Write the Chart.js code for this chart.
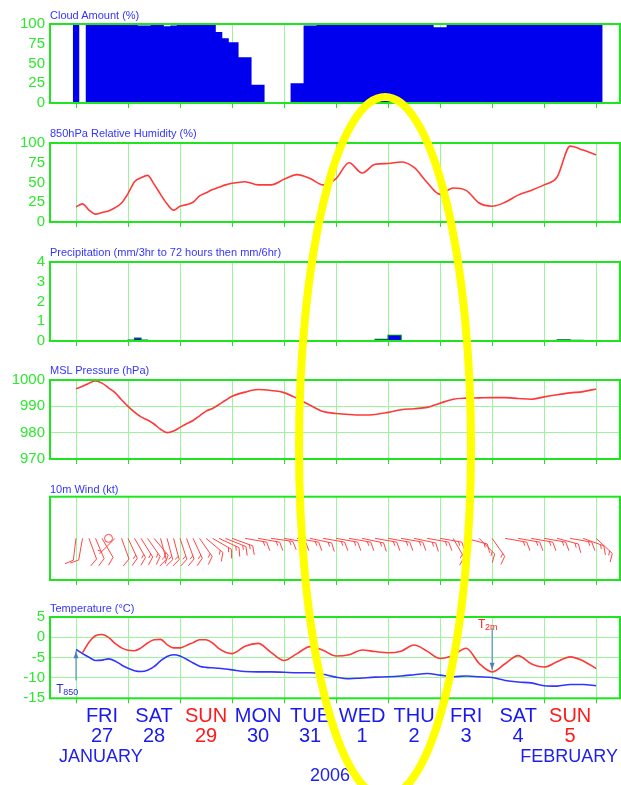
<!DOCTYPE html>
<html>
<head>
<meta charset="utf-8">
<script src="https://cdn.jsdelivr.net/npm/chart.js@4.4.1/dist/chart.umd.min.js"></script>
<style>
  body { margin: 0; background: #fff; font-family: "Liberation Sans", Arial, sans-serif; }
  #page { position: relative; width: 621px; height: 785px; overflow: hidden; }
  canvas.panel { position: absolute; left: 0; }
  .ttl { position: absolute; left: 50px; font-size: 11px; line-height: 12px; color: #3535ff; white-space: nowrap; z-index: 2; }
  .lbl { position: absolute; color: #2020ee; white-space: nowrap; z-index: 2; }
  #ring { position: absolute; left: 0; top: 0; z-index: 5; pointer-events: none; }
</style>
</head>
<body>
<div id="page"></div>
<script>
// forecast times (hours from 27 Jan 00Z): 3-hourly to 72h, then 6-hourly
const hours = [0,3,6,9,12,15,18,21,24,27,30,33,36,39,42,45,48,51,54,57,60,63,66,69,72,
  78,84,90,96,102,108,114,120,126,132,138,144,150,156,162,168,174,180,186,192,198,204,210,216,222,228,234,240];

const cloud = [100,0,100,100,100,100,100,99,100,100,98,98,100,100,97,98,100,100,100,100,100,100,90,82,77,
  58,23,1,0,25,98,100,100,100,100,100,100,100,100,100,96,100,100,100,100,100,100,100,100,100,100,100,100];

const humidity = [19,23,15,10,12,14,18,24,36,51,56,59,48,35,23,15,20,22,25,33,37,41,44,47,49,
  51,47,47,54,60,55,47,55,75,62,73,74,76,69,50,35,43,40,24,20,25,34,40,47,57,96,91,85];

// mm per interval ending at the given hour
const precip = [0,0,0,0,0,0,0,0,0,0.05,0.15,0.04,0,0,0,0,0,0,0,0,0,0,0,0,0,
  0,0,0,0,0,0,0,0,0,0,0,0.08,0.28,0,0,0,0,0,0,0,0,0,0,0,0,0.06,0.03,0];

const pressure = [996.7,997.6,998.8,999.6,998.8,997.0,995.2,992.5,990.0,987.8,986.0,984.8,983.3,981.3,980.0,980.6,982.0,983.4,984.6,986.4,988.2,989.2,990.7,992.3,993.8,
  995.4,996.4,996.0,995.2,993.0,990.4,988.0,987.3,986.9,986.7,986.9,987.7,988.7,989.1,989.6,991.2,992.7,993.1,993.2,993.3,993.3,993.0,992.7,993.6,994.4,995.1,995.6,996.6];

// wind: direction it blows from (deg) and speed (kt)
const windDir = [187,190,160,157,150,0,225,160,155,150,148,145,140,165,165,165,162,160,155,145,130,120,115,112,110,
  100,100,98,100,100,102,100,100,100,102,100,100,100,102,100,100,150,105,135,145,100,100,100,100,105,100,110,133];
const windSpeed = [10,10,10,10,10,0,5,10,15,15,15,15,15,15,15,15,15,15,15,15,15,15,15,15,15,
  15,15,15,15,15,15,15,15,15,15,15,15,15,15,15,15,15,15,15,15,15,15,15,15,15,15,15,15];

const t850 = [-3.0,-4.0,-4.9,-5.7,-5.6,-5.3,-5.8,-6.8,-7.6,-8.2,-8.4,-8.1,-7.2,-5.8,-4.7,-4.3,-4.6,-5.4,-6.3,-7.1,-7.4,-7.5,-7.6,-7.8,-8.0,
  -8.4,-8.5,-8.5,-8.6,-8.7,-8.7,-9.1,-9.8,-10.2,-10.0,-9.8,-9.7,-9.5,-9.2,-8.9,-9.3,-9.7,-9.5,-9.7,-9.9,-10.6,-11.0,-11.2,-11.9,-12.0,-11.6,-11.6,-11.9];
const t2m = [null,-3.8,-1.2,0.4,0.7,0.0,-1.5,-2.6,-3.2,-3.3,-2.6,-1.4,-0.6,-0.5,-1.8,-2.6,-2.6,-2.0,-1.3,-0.6,-0.6,-1.4,-2.8,-3.7,-4.0,
  -2.2,-1.5,-3.7,-5.7,-4.0,-2.3,-3.2,-4.6,-4.3,-3.1,-3.5,-3.8,-3.4,-1.9,-3.4,-5.2,-4.4,-2.7,-6.4,-8.5,-6.5,-4.5,-6.5,-7.3,-6.0,-4.8,-5.8,-7.7];

const dayTicks = [0,24,48,72,96,120,144,168,192,216,240];
const dayNoon = [12,36,60,84,108,132,156,180,204,228];
const dayNames = ['FRI','SAT','SUN','MON','TUE','WED','THU','FRI','SAT','SUN'];
const dayNums = ['27','28','29','30','31','1','2','3','4','5'];

const GREEN = '#1ee61e', GRID = '#9cf59c', LABEL = '#2ee82e';
Chart.defaults.font.family = '"Liberation Sans", Arial, sans-serif';
Chart.defaults.animation = false;

const page = document.getElementById('page');

const framePlugin = {
  id: 'frame',
  afterDatasetsDraw(chart) {
    const a = chart.chartArea, c = chart.ctx;
    c.save();
    c.strokeStyle = GREEN; c.lineWidth = 2;
    c.strokeRect(a.left, a.top, a.right - a.left, a.bottom - a.top);
    c.restore();
  }
};

function addTitle(text, areaTop) {
  const d = document.createElement('div');
  d.className = 'ttl'; d.textContent = text; d.style.top = (areaTop - 14) + 'px';
  page.appendChild(d);
}

function xScale(h) {
  return {
    type: 'linear', min: -12, max: 251,
    afterBuildTicks: s => { s.ticks = dayTicks.map(v => ({ value: v })); },
    ticks: { display: false },
    grid: { color: GRID, lineWidth: 1, tickLength: 5, tickColor: GREEN, tickWidth: 1 },
    border: { display: false },
    afterFit: s => { s.height = h; }
  };
}

function yScale(min, max, step, hgrid, show) {
  return {
    min: min, max: max,
    ticks: { display: show !== false, stepSize: step, autoSkip: false, color: LABEL, font: { size: 15 }, padding: 5,
      callback: v => String(v) },
    grid: { display: hgrid, color: GRID, lineWidth: 1, drawTicks: false },
    border: { display: false },
    afterFit: s => { s.width = 50; }
  };
}

function makePanel(areaTop, areaBottom, datasets, y, plugins, bottomTo, extraScales) {
  const top = Math.floor(areaTop - 12);
  const bottom = bottomTo || Math.ceil(areaBottom + 12);
  const cv = document.createElement('canvas');
  cv.className = 'panel';
  cv.width = 621; cv.height = bottom - top;
  cv.style.top = top + 'px';
  page.appendChild(cv);
  const xh = bottomTo ? 0 : bottom - areaBottom;
  const scales = Object.assign({ x: xScale(xh), y: y }, extraScales || {});
  return new Chart(cv, {
    type: 'line',
    data: { datasets: datasets },
    options: {
      responsive: false,
      layout: { padding: { top: areaTop - top, right: 1, left: 0, bottom: 0 } },
      plugins: { legend: { display: false }, tooltip: { enabled: false } },
      scales: scales
    },
    plugins: [framePlugin].concat(plugins || [])
  });
}

const pts = arr => hours.map((h, i) => ({ x: h, y: arr[i] }));

// step edges between forecast times
const edges = hours.map((h, i) => i === 0 ? h - (hours[1] - hours[0]) / 2 : (hours[i - 1] + h) / 2);
const lastEdge = hours[hours.length - 1] + (hours[hours.length - 1] - hours[hours.length - 2]) / 2;
const cloudPts = edges.map((e, i) => ({ x: e, y: cloud[i] })).concat([{ x: lastEdge, y: cloud[cloud.length - 1] }]);

// 1. cloud
addTitle('Cloud Amount (%)', 22.7);
makePanel(22.7, 105, [{
  data: cloudPts, stepped: 'before', fill: 'origin', backgroundColor: '#0000ee',
  borderWidth: 0, pointRadius: 0
}], yScale(0, 100, 25, false));

// 2. humidity
addTitle('850hPa Relative Humidity (%)', 141);
makePanel(141, 223.4, [{
  data: pts(humidity), borderColor: '#ff3838', borderWidth: 1.6, pointRadius: 0,
  cubicInterpolationMode: 'monotone', fill: false
}], yScale(0, 100, 25, false));

// 3. precipitation
addTitle('Precipitation (mm/3hr to 72 hours then mm/6hr)', 260);
makePanel(260, 342.3, [{
  data: pts(precip), stepped: 'after', fill: 'origin', backgroundColor: '#0000f0',
  borderColor: '#00703a', borderWidth: 1.2, pointRadius: 0,
  segment: { borderColor: c => (c.p0.parsed.y === 0 && c.p1.parsed.y === 0) ? 'rgba(0,0,0,0)' : '#00703a' }
}], yScale(0, 4, 1, false));

// 4. pressure
addTitle('MSL Pressure (hPa)', 378.3);
makePanel(378.3, 461, [{
  data: pts(pressure), borderColor: '#ff3838', borderWidth: 1.6, pointRadius: 0,
  cubicInterpolationMode: 'monotone', fill: false
}], yScale(970, 1000, 10, true));

// 5. wind barbs
function drawBarb(c, x, y, dir, spd) {
  if (spd < 2.5) {
    c.beginPath(); c.arc(x, y, 4, 0, Math.PI * 2); c.stroke(); return;
  }
  const r = dir * Math.PI / 180;
  const vx = Math.sin(r), vy = -Math.cos(r);
  const L = 22;
  const tx = x + vx * L, ty = y + vy * L;
  c.beginPath(); c.moveTo(x, y); c.lineTo(tx, ty);
  const px = -vy, py = vx;
  const fx = px * 0.87 + vx * 0.5, fy = py * 0.87 + vy * 0.5;
  let left = Math.round(spd / 5) * 5, pos = 0;
  while (left >= 10) {
    const bx = tx - vx * pos, by = ty - vy * pos;
    c.moveTo(bx, by); c.lineTo(bx + fx * 9, by + fy * 9);
    left -= 10; pos += 3.5;
  }
  if (left >= 5) {
    if (pos === 0) pos = 3.5;
    const bx = tx - vx * pos, by = ty - vy * pos;
    c.moveTo(bx, by); c.lineTo(bx + fx * 4.5, by + fy * 4.5);
  }
  c.stroke();
}
const barbPlugin = {
  id: 'barbs',
  afterDatasetsDraw(chart) {
    const c = chart.ctx, meta = chart.getDatasetMeta(0);
    c.save();
    c.strokeStyle = '#ff4545'; c.lineWidth = 1;
    meta.data.forEach((p, i) => drawBarb(c, p.x, p.y, windDir[i], windSpeed[i]));
    c.restore();
  }
};
addTitle('10m Wind (kt)', 496.7);
makePanel(496.7, 580, [{
  data: hours.map(h => ({ x: h, y: 0.5 })), showLine: false, pointRadius: 0
}], yScale(0, 1, 1, false, false), [barbPlugin]);

// 6. temperature, with day labels underneath
// arrows: hour, from value, to value; label: hour, value
const notes = [
  { name: '850', color: '#3030d0', h: 0, from: -10.6, to: -3.4, th: -9.1, tv: -13.0 },
  { name: '2m', color: '#ff2020', h: 192, from: 2.2, to: -8.0, th: 185.5, tv: 3.0 }
];
const notePlugin = {
  id: 'notes',
  afterDatasetsDraw(chart) {
    const c = chart.ctx, xs = chart.scales.x, ys = chart.scales.y;
    c.save();
    notes.forEach(n => {
      const x = xs.getPixelForValue(n.h), y0 = ys.getPixelForValue(n.from), y1 = ys.getPixelForValue(n.to);
      const d = y1 > y0 ? 1 : -1;
      c.strokeStyle = '#4f7fbf'; c.fillStyle = '#4f7fbf'; c.lineWidth = 1;
      c.beginPath(); c.moveTo(x, y0); c.lineTo(x, y1); c.stroke();
      c.beginPath(); c.moveTo(x, y1); c.lineTo(x - 2.5, y1 - d * 7); c.lineTo(x + 2.5, y1 - d * 7); c.closePath(); c.fill();
      const tx = xs.getPixelForValue(n.th), ty = ys.getPixelForValue(n.tv);
      c.textBaseline = 'middle';
      c.fillStyle = n.color;
      c.font = '12px "Liberation Sans", Arial, sans-serif';
      c.fillText('T', tx, ty);
      c.font = '9px "Liberation Sans", Arial, sans-serif';
      c.fillText(n.name, tx + 7, ty + 2);
    });
    c.restore();
  }
};
addTitle('Temperature (\u00B0C)', 615.7);
makePanel(615.7, 698.3, [
  { data: pts(t2m), borderColor: '#ff3838', borderWidth: 1.6, pointRadius: 0, cubicInterpolationMode: 'monotone', fill: false },
  { data: pts(t850), borderColor: '#3434ff', borderWidth: 1.6, pointRadius: 0, cubicInterpolationMode: 'monotone', fill: false }
], yScale(-15, 5, 5, true), [notePlugin], 785, {
  xl: {
    type: 'linear', min: -12, max: 251, position: 'bottom', weight: 1,
    afterBuildTicks: s => { s.ticks = dayNoon.map(v => ({ value: v })); },
    ticks: {
      autoSkip: false, maxRotation: 0, padding: 0,
      font: { size: 20, lineHeight: 1.0 },
      color: c => dayNames[c.index] === 'SUN' ? '#ff1a1a' : '#1a1aee',
      callback: (v, i) => [dayNames[i], dayNums[i]]
    },
    grid: { display: false },
    border: { display: false },
    afterFit: s => { s.height = 785 - 698.3; }
  }
});

function addLabel(text, css) {
  const d = document.createElement('div');
  d.className = 'lbl'; d.textContent = text;
  Object.assign(d.style, css);
  page.appendChild(d);
}
addLabel('JANUARY', { left: '59px', top: '746px', fontSize: '18px', lineHeight: '20px' });
addLabel('FEBRUARY', { right: '3px', top: '746px', fontSize: '18px', lineHeight: '20px' });
addLabel('2006', { left: '310px', top: '765px', fontSize: '18px', lineHeight: '20px' });

// yellow highlight ring
const ring = document.createElement('canvas');
ring.id = 'ring'; ring.width = 621; ring.height = 785;
page.appendChild(ring);
const rc = ring.getContext('2d');
rc.strokeStyle = '#ffff00'; rc.lineWidth = 8;
rc.beginPath(); rc.ellipse(385, 447, 86, 350, 0, 0, Math.PI * 2); rc.stroke();
</script>
</body>
</html>
